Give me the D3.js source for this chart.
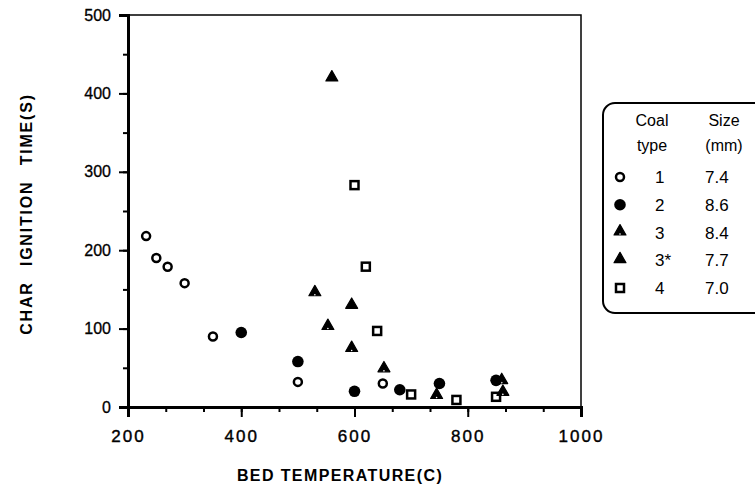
<!DOCTYPE html>
<html>
<head>
<meta charset="utf-8">
<script src="https://cdn.jsdelivr.net/npm/d3@7"></script>
<style>
  body { margin: 0; background: #fff; }
  svg { display: block; font-family: "Liberation Sans", Arial, sans-serif; }
</style>
</head>
<body>
<svg id="chart" width="755" height="488"></svg>
<script>
// values: [bed temperature (C), char ignition time (s)]
const coal1 = [[232, 218], [250, 190], [270, 179], [300, 158], [350, 90], [500, 32], [650, 30]];
const coal2 = [[400, 95], [500, 58], [600, 20], [680, 22], [750, 30], [850, 34]];
const coal3 = [[530, 145], [553, 102], [595, 74], [652, 48], [745, 14], [860, 33], [862, 18]];
const coal3s = [[560, 419], [595, 129]];
const coal4 = [[600, 283], [620, 179], [640, 97], [700, 16], [780, 9], [850, 13]];

const xTicks = [200, 400, 600, 800, 1000];
const xMinor = d3.range(200, 1001, 200 / 3);
const yTicks = [0, 100, 200, 300, 400, 500];
const yMinor = d3.range(0, 501, 50);

const legendRows = [
  { type: "1", size: "7.4", sym: "open" },
  { type: "2", size: "8.6", sym: "dot" },
  { type: "3", size: "8.4", sym: "tri" },
  { type: "3*", size: "7.7", sym: "triSolid" },
  { type: "4", size: "7.0", sym: "square" }
];

const MARGIN = { top: 15, left: 128, right: 581, bottom: 407 };
const svg = d3.select("#chart");

const x = d3.scaleLinear().domain([200, 1000]).range([MARGIN.left, MARGIN.right]);
const y = d3.scaleLinear().domain([0, 500]).range([MARGIN.bottom, MARGIN.top]);

// frame
svg.append("rect")
  .attr("x", MARGIN.left).attr("y", MARGIN.top)
  .attr("width", MARGIN.right - MARGIN.left)
  .attr("height", MARGIN.bottom - MARGIN.top)
  .attr("fill", "none").attr("stroke", "#000").attr("stroke-width", 1.5);

// x axis: minor then major
svg.append("g")
  .attr("transform", `translate(0,${MARGIN.bottom})`)
  .call(d3.axisBottom(x).tickValues(xMinor).tickSize(5).tickFormat(""))
  .call(g => g.select(".domain").remove())
  .call(g => g.selectAll("line").attr("stroke-width", 2));

svg.append("g")
  .attr("transform", `translate(0,${MARGIN.bottom})`)
  .call(d3.axisBottom(x).tickValues(xTicks).tickSize(10).tickPadding(13).tickFormat(d3.format("d")))
  .call(g => g.select(".domain").attr("stroke-width", 3))
  .call(g => g.selectAll("line").attr("stroke-width", 2))
  .call(g => g.selectAll("text")
    .attr("font-size", 17).attr("letter-spacing", 2)
    .attr("font-family", "Liberation Sans, Arial, sans-serif")
    .attr("stroke", "#000").attr("stroke-width", 0.4)
    .attr("fill", "#000"));

// y axis
svg.append("g")
  .attr("transform", `translate(${MARGIN.left},0)`)
  .call(d3.axisLeft(y).tickValues(yMinor).tickSize(5).tickFormat(""))
  .call(g => g.select(".domain").remove())
  .call(g => g.selectAll("line").attr("stroke-width", 2));

svg.append("g")
  .attr("transform", `translate(${MARGIN.left},0)`)
  .call(d3.axisLeft(y).tickValues(yTicks).tickSize(9).tickPadding(8))
  .call(g => g.select(".domain").attr("stroke-width", 3))
  .call(g => g.selectAll("line").attr("stroke-width", 2))
  .call(g => g.selectAll("text")
    .attr("font-size", 16)
    .attr("font-family", "Liberation Sans, Arial, sans-serif")
    .attr("stroke", "#000").attr("stroke-width", 0.3)
    .attr("fill", "#000"));

// axis titles
svg.append("text")
  .attr("x", 340).attr("y", 481)
  .attr("text-anchor", "middle")
  .attr("font-size", 16).attr("font-weight", "bold")
  .attr("letter-spacing", 1.4)
  .text("BED TEMPERATURE(C)");

svg.append("text")
  .attr("transform", "translate(32,214) rotate(-90)")
  .attr("text-anchor", "middle")
  .attr("font-size", 16).attr("font-weight", "bold")
  .attr("letter-spacing", 1.8)
  .attr("word-spacing", 9)
  .text("CHAR IGNITION TIME(S)");

// marker drawing
const tri = d3.symbol().type(d3.symbolTriangle).size(62);
function drawSym(g, sym) {
  if (sym === "open") {
    g.append("circle").attr("r", 4).attr("fill", "#fff").attr("stroke", "#000").attr("stroke-width", 2.5);
  } else if (sym === "dot") {
    g.append("circle").attr("r", 5.8).attr("fill", "#000");
  } else if (sym === "tri" || sym === "triSolid") {
    g.append("path").attr("d", tri).attr("transform", "translate(0,-1)").attr("fill", "#000")
      .attr("stroke", "#000").attr("stroke-width", 1.2).attr("stroke-linejoin", "round");
    if (sym === "tri") g.append("circle").attr("cy", 1.5).attr("r", 0.8).attr("fill", "#fff");
  } else if (sym === "square") {
    g.append("rect").attr("x", -4).attr("y", -4).attr("width", 8).attr("height", 8)
      .attr("fill", "#fff").attr("stroke", "#000").attr("stroke-width", 2.5);
  }
}

const series = [
  { data: coal1, sym: "open" },
  { data: coal4, sym: "square" },
  { data: coal3, sym: "tri" },
  { data: coal3s, sym: "triSolid" },
  { data: coal2, sym: "dot" }
];

const pts = svg.append("g");
series.forEach(s => {
  pts.selectAll(null)
    .data(s.data)
    .join("g")
    .attr("transform", d => `translate(${x(d[0])},${y(d[1])})`)
    .each(function () { drawSym(d3.select(this), s.sym); });
});

// legend
const lg = svg.append("g");
lg.append("rect")
  .attr("x", 603).attr("y", 103).attr("width", 180).attr("height", 210)
  .attr("rx", 12).attr("fill", "none").attr("stroke", "#000").attr("stroke-width", 2);

lg.selectAll(".hdr")
  .data([["Coal", 652, 126], ["type", 652, 151], ["Size", 724, 126], ["(mm)", 724, 151]])
  .join("text")
  .attr("x", d => d[1]).attr("y", d => d[2])
  .attr("text-anchor", "middle").attr("font-size", 16)
  .text(d => d[0]);

const rowY = d3.scalePoint().domain(legendRows.map(r => r.type)).range([177, 288]);
const rows = lg.selectAll(".row")
  .data(legendRows)
  .join("g")
  .attr("transform", d => `translate(0,${rowY(d.type)})`);
rows.append("g").attr("transform", "translate(620,0)")
  .each(function (d) { drawSym(d3.select(this), d.sym); });
rows.append("text").attr("x", 655).attr("y", 6).attr("font-size", 17).text(d => d.type);
rows.append("text").attr("x", 705).attr("y", 6).attr("font-size", 17).text(d => d.size);
</script>
</body>
</html>
